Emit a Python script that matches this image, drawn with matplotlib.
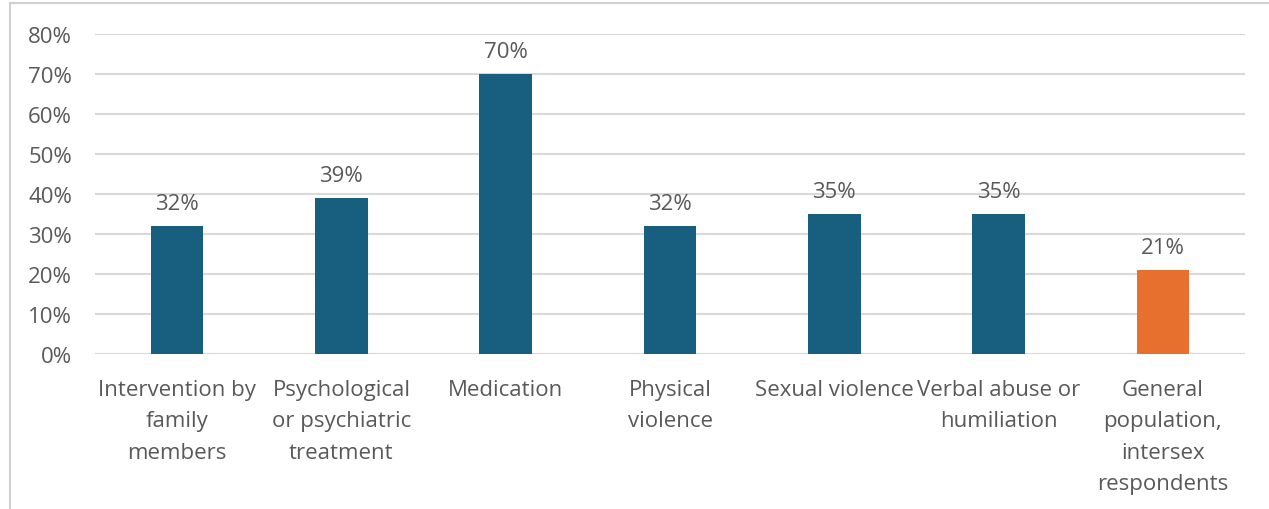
import matplotlib
matplotlib.use("Agg")
import matplotlib.pyplot as plt
from matplotlib.lines import Line2D

categories = ["Intervention by\nfamily\nmembers",
              "Psychological\nor psychiatric\ntreatment",
              "Medication",
              "Physical\nviolence",
              "Sexual violence",
              "Verbal abuse or\nhumiliation",
              "General\npopulation,\nintersex\nrespondents"]
values = [32, 39, 70, 32, 35, 35, 21]
colors = ["#175E7F"] * 6 + ["#E8702F"]
yticks = [0, 10, 20, 30, 40, 50, 60, 70, 80]

plt.rcParams['font.family'] = ['Open Sans', 'DejaVu Sans']
txt = "#595959"
FS = 16

fig = plt.figure(figsize=(12.69, 5.10), dpi=100)
ax = fig.add_axes([95/1269, 1 - 355/510, 1150/1269, 320/510])

x = list(range(len(values)))
ax.bar(x, values, width=0.32, color=colors, zorder=3)
for xi, v in zip(x, values):
    ax.text(xi, v + 3.0, f"{v}%", ha="center", va="bottom", fontsize=FS, color=txt)

ax.set_xlim(-0.5, len(values) - 0.5)
ax.set_ylim(0, 80)
ax.set_yticks(yticks)
ax.set_yticklabels([f"{t}%" for t in yticks], fontsize=FS, color=txt)
ax.set_xticks(x)
ax.set_xticklabels(categories, fontsize=FS, color=txt, va="top")
for lab in ax.get_xticklabels():
    lab.set_linespacing(1.65)
ax.tick_params(axis="both", length=0)
ax.tick_params(axis="y", pad=16.5)
ax.tick_params(axis="x", pad=18)
ax.grid(axis="y", color="#D9D9D9", linewidth=1.5, zorder=0)
for s in ax.spines.values():
    s.set_visible(False)

# outer frame (top and left)
fig.add_artist(Line2D([10/1269, 10/1269], [0, 1 - 4/510], transform=fig.transFigure, color="#D0D0D0", linewidth=1.5))
fig.add_artist(Line2D([10/1269, 1], [1 - 4/510, 1 - 4/510], transform=fig.transFigure, color="#D0D0D0", linewidth=1.5))

fig.savefig("out.png", dpi=100)
